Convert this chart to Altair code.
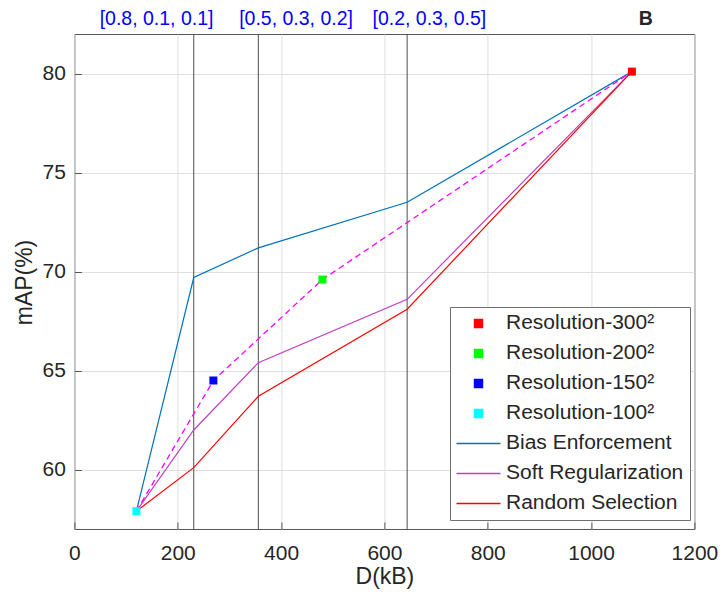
import altair as alt
import pandas as pd

# ---- data ----
line_x = [120, 231, 356, 644, 1079]
bias_enforcement = [57.9, 69.7, 71.2, 73.5, 80.1]
soft_regularization = [57.9, 62.0, 65.4, 68.6, 80.1]
random_selection = [57.9, 60.1, 63.7, 68.1, 80.1]
line_names = ["Bias Enforcement", "Soft Regularization", "Random Selection"]

res_names = ["Resolution-300²", "Resolution-200²", "Resolution-150²", "Resolution-100²"]
res_x = [1079, 480, 269, 120]
res_y = [80.1, 69.6, 64.5, 57.9]

dash_x = [120, 269, 480, 1079]
dash_y = [57.9, 64.5, 69.6, 80.1]

vline_x = [231, 356, 644]

ann_text = ["[0.8, 0.1, 0.1]", "[0.5, 0.3, 0.2]", "[0.2, 0.3, 0.5]"]
ann_x = [159, 429, 687]
ann_y = 82.74
panel_text = ["B"]
panel_x = [1106]

x_ticks = [0, 200, 400, 600, 800, 1000, 1200]
y_ticks = [60, 65, 70, 75, 80]

series_order = res_names + line_names
series_colors = ["#FF0000", "#00FF00", "#0000FF", "#00FFFF", "#0072BD", "#BF40BF", "#FF0000"]

# ---- tables ----
rows = []
for name, ys_ in zip(line_names, [bias_enforcement, soft_regularization, random_selection]):
    for xv, yv in zip(line_x, ys_):
        rows.append({"series": name, "x": xv, "y": yv})
df_lines = pd.DataFrame(rows)
df_res = pd.DataFrame({"series": res_names, "x": res_x, "y": res_y})
df_dash = pd.DataFrame({"x": dash_x, "y": dash_y})
df_v = pd.DataFrame({"x": vline_x})
df_ann = pd.DataFrame({"x": ann_x, "y": [ann_y] * len(ann_x), "t": ann_text})
df_panel = pd.DataFrame({"x": panel_x, "y": [ann_y], "t": panel_text})

FONT = "Liberation Sans"
xs = alt.Scale(domain=[0, 1200], nice=False, zero=False)
ys = alt.Scale(domain=[57, 82], nice=False, zero=False)
cs = alt.Scale(domain=series_order, range=series_colors)

x_axis = alt.Axis(values=x_ticks, format="d", title="D(kB)", grid=True, gridColor="#dfdfdf",
                  domain=False, ticks=True, tickSize=7, tickColor="#555555",
                  offset=-7, labelPadding=14, labelFontSize=21, labelColor="#262626",
                  labelFlush=False, titleFontSize=23, titleFontWeight="normal",
                  titleColor="#262626", titleY=55, titleBaseline="middle")
y_axis = alt.Axis(values=y_ticks, format="d", title="mAP(%)", grid=True, gridColor="#dfdfdf",
                  domain=False, ticks=True, tickSize=7, tickColor="#555555",
                  offset=-7, labelPadding=9, labelFontSize=21, labelColor="#262626",
                  labelFlush=False, titleFontSize=23, titleFontWeight="normal",
                  titleColor="#262626", titleX=-57, titleY=248, titleBaseline="middle")

X = alt.X("x:Q", scale=xs, axis=x_axis)
Y = alt.Y("y:Q", scale=ys, axis=y_axis)

line_set = "['Bias Enforcement','Soft Regularization','Random Selection']"
color_expr = "scale('color', datum.value)"
legend = alt.Legend(
    orient="none", legendX=375.6, legendY=273, title=None, columns=1,
    symbolType=alt.ExprRef(expr=f"indexof({line_set}, datum.value) >= 0 ? 'M-5.5,0H5.5' : 'M-1,-1H1V1H-1Z'"),
    symbolFillColor=alt.ExprRef(expr=color_expr),
    symbolStrokeColor=alt.ExprRef(expr=color_expr),
    symbolStrokeWidth=1.4, symbolOpacity=1,
    symbolSize=64, symbolOffset=12, labelOffset=17, padding=6, rowPadding=8,
    labelFontSize=21, labelColor="#262626", labelFont=FONT, labelLimit=400,
    strokeColor="#6e6e6e", fillColor="white",
)

rules = alt.Chart(df_v).mark_rule(color="#4d4d4d", strokeWidth=1).encode(x=X)

lines = alt.Chart(df_lines).mark_line(strokeWidth=1.2).encode(
    x=X, y=Y,
    color=alt.Color("series:N", scale=cs, legend=legend),
    detail="series:N",
    order="x:Q",
)

dashed = alt.Chart(df_dash).mark_line(color="#FF00FF", strokeWidth=1.3, strokeDash=[6, 4]).encode(
    x=X, y=Y, order="x:Q",
)

points = alt.Chart(df_res).mark_point(shape="square", filled=True, size=64, opacity=1).encode(
    x=X, y=Y,
    color=alt.Color("series:N", scale=cs, legend=None),
)

ann = alt.Chart(df_ann).mark_text(color="#0000FF", fontSize=19.5, font=FONT, baseline="middle").encode(
    x=X, y=Y, text="t:N",
)

panel = alt.Chart(df_panel).mark_text(color="#262626", fontSize=19.5, fontWeight="bold", font=FONT,
                                      baseline="middle").encode(
    x=X, y=Y, text="t:N",
)

chart = alt.layer(rules, lines, dashed, points, ann, panel).properties(
    width=620, height=495,
    autosize=alt.AutoSizeParams(type="none"),
    padding={"left": 66.4, "top": 26, "right": 23.5, "bottom": 60},
).configure(font=FONT).configure_view(stroke="#555555", strokeWidth=1)

chart.save("out.html", embed_options={"renderer": "svg", "actions": False})
